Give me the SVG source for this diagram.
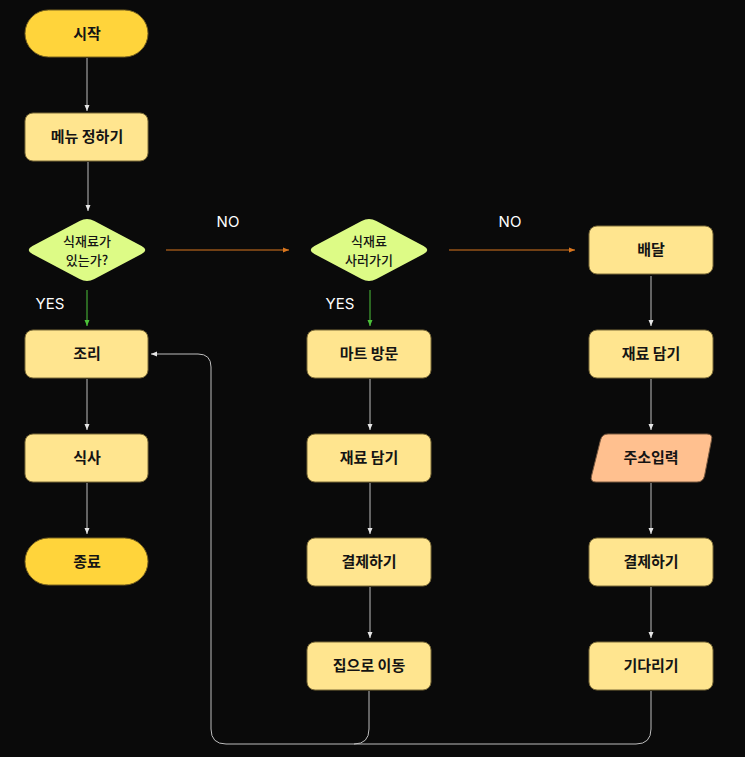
<svg xmlns="http://www.w3.org/2000/svg" width="745" height="757" viewBox="0 0 745 757">
<style>
.term{fill:#FFD43B;stroke:#7a6420;stroke-width:1}
.proc{fill:#FFE58F;stroke:#7a6a38;stroke-width:1}
.dec{fill:#DDFB86;stroke:none}
.io{fill:#FFC08F;stroke:#7a5a40;stroke-width:1}
.t{font-family:"Noto Sans CJK KR","Noto Sans",sans-serif;font-weight:700;font-size:15px;fill:#141414;text-anchor:middle}
.td{font-family:"Noto Sans CJK KR","Noto Sans",sans-serif;font-weight:500;font-size:13px;fill:#141414;text-anchor:middle}
.lab{font-family:Inter,"Liberation Sans",sans-serif;font-size:15px;fill:#ffffff;text-anchor:middle}
.c{fill:none;stroke:#BDBDBD;stroke-width:1}
.cg{fill:none;stroke:#4CC23A;stroke-width:1}
.co{fill:none;stroke:#D9761E;stroke-width:1}
</style>
<defs>
<marker id="ag" viewBox="0 0 6 6" refX="6" refY="3" markerWidth="6" markerHeight="6" orient="auto" markerUnits="userSpaceOnUse"><path d="M0,0.5 L6,3 L0,5.5 Z" fill="#E6E6E6"/></marker>
<marker id="agr" viewBox="0 0 6 6" refX="6" refY="3" markerWidth="6" markerHeight="6" orient="auto" markerUnits="userSpaceOnUse"><path d="M0,0.5 L6,3 L0,5.5 Z" fill="#4CC23A"/></marker>
<marker id="aor" viewBox="0 0 6 6" refX="6" refY="3" markerWidth="6" markerHeight="6" orient="auto" markerUnits="userSpaceOnUse"><path d="M0,0.5 L6,3 L0,5.5 Z" fill="#D9761E"/></marker>
<path id="dia" d="M79.6,221 Q87,217 94.4,221 L141.6,246 Q149,250 141.6,254 L94.4,279 Q87,283 79.6,279 L32.4,254 Q25,250 32.4,246 Z"/>
</defs>
<rect width="745" height="757" fill="#0A0A0A"/>

<g id="connectors">
<path class="c" d="M87,58 V111" marker-end="url(#ag)"/>
<path class="c" d="M88,162 V211" marker-end="url(#ag)"/>
<path class="cg" d="M87,290 V326" marker-end="url(#agr)"/>
<path class="co" d="M166,250 H289" marker-end="url(#aor)"/>
<path class="co" d="M449,250 H575" marker-end="url(#aor)"/>
<path class="cg" d="M370,290 V326" marker-end="url(#agr)"/>
<path class="c" d="M87,379 V430" marker-end="url(#ag)"/>
<path class="c" d="M87,483 V534" marker-end="url(#ag)"/>
<path class="c" d="M370,379 V430" marker-end="url(#ag)"/>
<path class="c" d="M370,483 V534" marker-end="url(#ag)"/>
<path class="c" d="M370,587 V638" marker-end="url(#ag)"/>
<path class="c" d="M651,276 V326" marker-end="url(#ag)"/>
<path class="c" d="M651,379 V430" marker-end="url(#ag)"/>
<path class="c" d="M651,483 V534" marker-end="url(#ag)"/>
<path class="c" d="M651,587 V638" marker-end="url(#ag)"/>
<path class="c" d="M369,691 V729 Q369,744 354,744 H226 Q211,744 211,729 V367 Q211,354 198,354 H151" marker-end="url(#ag)"/>
<path class="c" d="M651,691 V729 Q651,744 636,744 H354"/>
<text class="lab" x="50" y="309">YES</text>
<text class="lab" x="340" y="309">YES</text>
<text class="lab" x="228" y="227">NO</text>
<text class="lab" x="510" y="227">NO</text>
</g>

<g id="start"><rect class="term" x="25" y="10" width="123" height="47" rx="23.5"/><text class="t" x="87" y="39">시작</text></g>
<g id="menu"><rect class="proc" x="25" y="113" width="123" height="48" rx="8"/><text class="t" x="87" y="142">메뉴 정하기</text></g>
<g id="dec1"><use href="#dia" class="dec"/><text class="td" x="87" y="246">식재료가</text><text class="td" x="87" y="265">있는가?</text></g>
<g id="cook"><rect class="proc" x="25" y="330" width="123" height="48" rx="8"/><text class="t" x="87" y="359">조리</text></g>
<g id="eat"><rect class="proc" x="25" y="434" width="123" height="48" rx="8"/><text class="t" x="87" y="463">식사</text></g>
<g id="end"><rect class="term" x="25" y="538" width="123" height="47" rx="23.5"/><text class="t" x="87" y="567">종료</text></g>

<g id="dec2"><use href="#dia" class="dec" transform="translate(282,0)"/><text class="td" x="369" y="246">식재료</text><text class="td" x="369" y="265">사러가기</text></g>
<g id="mart"><rect class="proc" x="307" y="330" width="124" height="48" rx="8"/><text class="t" x="369" y="359">마트 방문</text></g>
<g id="pick"><rect class="proc" x="307" y="434" width="124" height="48" rx="8"/><text class="t" x="369" y="463">재료 담기</text></g>
<g id="pay1"><rect class="proc" x="307" y="538" width="124" height="48" rx="8"/><text class="t" x="369" y="567">결제하기</text></g>
<g id="home"><rect class="proc" x="307" y="642" width="124" height="48" rx="8"/><text class="t" x="369" y="671">집으로 이동</text></g>

<g id="delivery"><rect class="proc" x="589" y="226" width="124" height="48" rx="8"/><text class="t" x="651" y="255">배달</text></g>
<g id="cart"><rect class="proc" x="589" y="330" width="124" height="48" rx="8"/><text class="t" x="651" y="359">재료 담기</text></g>
<g id="addr"><path class="io" d="M608,434 L707,434 Q713,434 711.5,440 L704.5,476 Q703,482 697,482 L596,482 Q590,482 591.5,476 L600.5,440 Q602,434 608,434 Z"/><text class="t" x="651" y="463">주소입력</text></g>
<g id="pay2"><rect class="proc" x="589" y="538" width="124" height="48" rx="8"/><text class="t" x="651" y="567">결제하기</text></g>
<g id="wait"><rect class="proc" x="589" y="642" width="124" height="48" rx="8"/><text class="t" x="651" y="671">기다리기</text></g>
</svg>
